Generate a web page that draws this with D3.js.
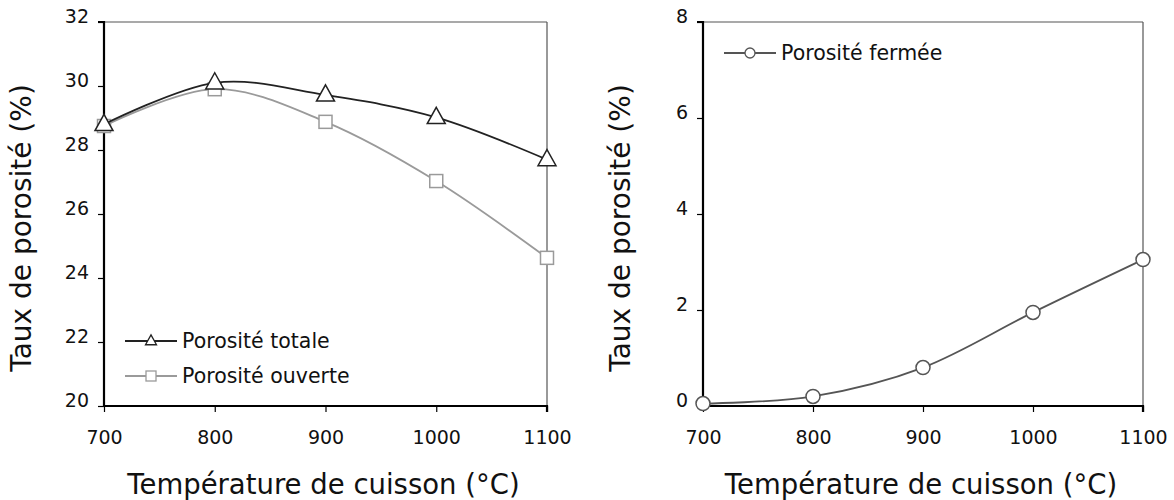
<!DOCTYPE html>
<html>
<head>
<meta charset="utf-8">
<script src="https://cdn.jsdelivr.net/npm/d3@7"></script>
<style>
  body { margin: 0; background: #fff; }
  svg { display: block; font-family: "DejaVu Sans", Verdana, sans-serif; }
</style>
</head>
<body>
<svg id="chart" width="1174" height="500"></svg>
<script>
// ---- data ----
const temperatures = [700, 800, 900, 1000, 1100];
const porositeTotale = [28.8, 30.1, 29.72, 29.02, 27.7];
const porositeOuverte = [28.75, 29.9, 28.88, 27.03, 24.63];
const porositeFermee = [0.05, 0.2, 0.8, 1.95, 3.05];
const xTicks = [700, 800, 900, 1000, 1100];
const yTicksLeft = [20, 22, 24, 26, 28, 30, 32];
const yTicksRight = [0, 2, 4, 6, 8];
const xTitle = "Température de cuisson (°C)";
const yTitle = "Taux de porosité (%)";
const legendLeft = ["Porosité totale", "Porosité ouverte"];
const legendRight = ["Porosité fermée"];

const svg = d3.select("#chart");

function panel(opts) {
  const g = svg.append("g");
  const x = d3.scaleLinear().domain([700, 1100]).range([opts.x0, opts.x1]);
  const y = d3.scaleLinear().domain(opts.yDomain).range([opts.y1, opts.y0]);

  // top & right frame (thin gray)
  g.append("line").attr("x1", opts.x0).attr("x2", opts.x1).attr("y1", opts.y0).attr("y2", opts.y0)
    .attr("stroke", "#555").attr("stroke-width", 1.2);
  g.append("line").attr("x1", opts.x1).attr("x2", opts.x1).attr("y1", opts.y0).attr("y2", opts.y1)
    .attr("stroke", "#555").attr("stroke-width", 1.2);

  // axes
  const yAxis = d3.axisLeft(y).tickValues(opts.yTicks).tickSize(6).tickPadding(9).tickFormat(d3.format("d"));
  const xAxis = d3.axisBottom(x).tickValues(xTicks).tickSize(6).tickPadding(19).tickFormat(d3.format("d"));
  const ya = g.append("g").attr("transform", `translate(${opts.x0},0)`).call(yAxis);
  const xa = g.append("g").attr("transform", `translate(0,${opts.y1})`).call(xAxis);
  [ya, xa].forEach(a => {
    a.select(".domain").attr("stroke", "#000").attr("stroke-width", 2.2);
    a.selectAll(".tick line").attr("stroke", "#000").attr("stroke-width", 1.2);
    a.selectAll(".tick text").attr("font-size", 19).attr("fill", "#111")
      .attr("font-family", "'DejaVu Sans', Verdana, sans-serif");
  });
  ya.select(".domain").attr("d", `M-6,${opts.y0}H0V${opts.y1}`);
  xa.select(".domain").attr("d", `M${opts.x0},0H${opts.x1}V6`);
  ya.selectAll(".tick text").attr("dy", "0.05em");

  // titles
  g.append("text").attr("x", (opts.x0 + opts.x1) / 2 - 2).attr("y", 494)
    .attr("text-anchor", "middle").attr("font-size", 27.5).attr("fill", "#111").text(xTitle);
  g.append("text").attr("transform", `translate(${opts.yTitleX},${(opts.y0 + opts.y1) / 2 + 14}) rotate(-90)`)
    .attr("text-anchor", "middle").attr("font-size", 28).attr("fill", "#111").text(yTitle);

  return { g, x, y };
}

const curve = d3.curveCardinal.tension(0);

function drawMarker(g, type, cx, cy, size, stroke, sw) {
  if (type === "tri") {
    const h = size * 0.9, w = size;
    g.append("path").attr("d", `M${cx},${cy - h * 0.62}L${cx + w / 2},${cy + h * 0.38}L${cx - w / 2},${cy + h * 0.38}Z`)
      .attr("fill", "#fff").attr("stroke", stroke).attr("stroke-width", sw);
  } else if (type === "sq") {
    g.append("rect").attr("x", cx - size / 2).attr("y", cy - size / 2).attr("width", size).attr("height", size)
      .attr("fill", "#fff").attr("stroke", stroke).attr("stroke-width", sw);
  } else {
    g.append("circle").attr("cx", cx).attr("cy", cy).attr("r", size / 2)
      .attr("fill", "#fff").attr("stroke", stroke).attr("stroke-width", sw);
  }
}

function series(p, values, color, width, marker, msize) {
  const pts = temperatures.map((t, i) => [p.x(t), p.y(values[i])]);
  p.g.append("path").attr("d", d3.line().curve(curve)(pts))
    .attr("fill", "none").attr("stroke", color).attr("stroke-width", width);
  pts.forEach(([cx, cy]) => drawMarker(p.g, marker, cx, cy, msize, color, 1.5));
}

function legendItem(p, x0, yy, label, color, width, marker, msize) {
  p.g.append("line").attr("x1", x0).attr("x2", x0 + 52).attr("y1", yy).attr("y2", yy)
    .attr("stroke", color).attr("stroke-width", width);
  drawMarker(p.g, marker, x0 + 26, yy, msize, color, 1.3);
  p.g.append("text").attr("x", x0 + 57).attr("y", yy).attr("dy", "0.35em")
    .attr("font-size", 20.5).attr("fill", "#111").text(label);
}

// left panel
const L = panel({ x0: 104, x1: 547, y0: 22, y1: 406, yDomain: [20, 32], yTicks: yTicksLeft, yTitleX: 31 });
series(L, porositeOuverte, "#9a9a9a", 1.8, "sq", 13);
series(L, porositeTotale, "#222", 1.8, "tri", 18);
legendItem(L, 125, 341, legendLeft[0], "#222", 1.8, "tri", 11);
legendItem(L, 125, 376, legendLeft[1], "#9a9a9a", 1.8, "sq", 10);

// right panel
const R = panel({ x0: 703, x1: 1143, y0: 22, y1: 406, yDomain: [0, 8], yTicks: yTicksRight, yTitleX: 630 });
series(R, porositeFermee, "#555", 1.8, "circ", 14);
legendItem(R, 724, 53, legendRight[0], "#555", 1.8, "circ", 10);
</script>
</body>
</html>
